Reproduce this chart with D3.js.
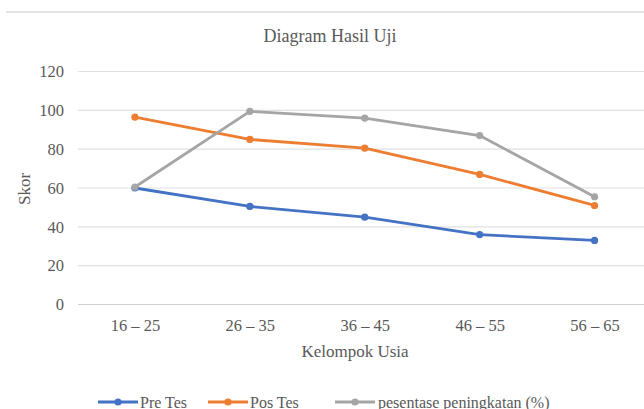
<!DOCTYPE html>
<html>
<head>
<meta charset="utf-8">
<script src="https://cdn.jsdelivr.net/npm/d3@7/dist/d3.min.js"></script>
<style>
  html, body { margin: 0; padding: 0; background: #fff; }
  svg { display: block; }
</style>
</head>
<body>
<svg id="chart" width="644" height="409"></svg>
<script>
// Age groups and test scores
const categories = ["16 – 25", "26 – 35", "36 – 45", "46 – 55", "56 – 65"];
const preTes = [60, 50.5, 45, 36, 33];
const posTes = [96.5, 85, 80.5, 67, 51];
const persentase = [60.5, 99.5, 96, 87, 55.5];
const yTicks = [0, 20, 40, 60, 80, 100, 120];

const seriesNames = ["Pre Tes", "Pos Tes", "pesentase peningkatan (%)"];
const seriesColors = ["#4472C4", "#ED7D31", "#A5A5A5"];
const seriesValues = [preTes, posTes, persentase];

const serif = "'Liberation Serif'";
const textColor = "#595959";
const svg = d3.select("#chart");

function styleText(sel, size) {
  return sel.attr("font-family", null)
    .style("font-family", serif)
    .style("font-size", size + "px")
    .style("fill", textColor);
}

// frame line along the top of the chart area
svg.append("line")
  .attr("x1", 6).attr("x2", 644).attr("y1", 12).attr("y2", 12)
  .attr("stroke", "#d9d9d9").attr("stroke-width", 1.5);

const x = d3.scalePoint().domain(categories).range([77.5, 652]).padding(0.5);
const y = d3.scaleLinear().domain([0, 120]).range([304.5, 71.5]);

// horizontal gridlines
svg.append("g")
  .selectAll("line")
  .data(yTicks)
  .join("line")
  .attr("x1", 78).attr("x2", 644)
  .attr("y1", d => y(d)).attr("y2", d => y(d))
  .attr("stroke", d => d === 0 ? "#cfcfcf" : "#e0e0e0")
  .attr("stroke-width", 1.2);

// y axis labels
const yAxis = svg.append("g")
  .attr("transform", "translate(64,0)")
  .call(d3.axisLeft(y).tickValues(yTicks).tickSize(0).tickPadding(0))
  .attr("font-family", null).attr("font-size", null);
yAxis.select(".domain").remove();
styleText(yAxis.selectAll("text"), 16.5);

// x axis labels
const xAxis = svg.append("g")
  .attr("transform", "translate(0,331)")
  .call(d3.axisBottom(x).tickSize(0).tickPadding(0))
  .attr("font-family", null).attr("font-size", null);
xAxis.select(".domain").remove();
styleText(xAxis.selectAll("text"), 16.5).attr("dy", 0).attr("y", 0);

// titles
styleText(svg.append("text"), 18)
  .attr("x", 330).attr("y", 42)
  .attr("text-anchor", "middle")
  .text("Diagram Hasil Uji");

styleText(svg.append("text"), 17)
  .attr("x", 355).attr("y", 357)
  .attr("text-anchor", "middle")
  .text("Kelompok Usia");

styleText(svg.append("text"), 17)
  .attr("transform", "translate(30,189) rotate(-90)")
  .attr("text-anchor", "middle")
  .text("Skor");

// series lines and markers
const line = d3.line()
  .x((d, i) => x(categories[i]))
  .y(d => y(d));

seriesValues.forEach((vals, s) => {
  const g = svg.append("g");
  g.append("path")
    .datum(vals)
    .attr("d", line)
    .attr("fill", "none")
    .attr("stroke", seriesColors[s])
    .attr("stroke-width", 2.8)
    .attr("stroke-linejoin", "round");
  g.selectAll("circle")
    .data(vals)
    .join("circle")
    .attr("cx", (d, i) => x(categories[i]))
    .attr("cy", d => y(d))
    .attr("r", 3.6)
    .attr("fill", seriesColors[s]);
});

// legend
const legendItems = [
  { x1: 98, x2: 138, tx: 140 },
  { x1: 208, x2: 248, tx: 250 },
  { x1: 335, x2: 375, tx: 378 }
];
const legend = svg.append("g");
legendItems.forEach((it, s) => {
  const ly = 402;
  legend.append("line")
    .attr("x1", it.x1).attr("x2", it.x2).attr("y1", ly).attr("y2", ly)
    .attr("stroke", seriesColors[s]).attr("stroke-width", 2.8);
  legend.append("circle")
    .attr("cx", (it.x1 + it.x2) / 2).attr("cy", ly).attr("r", 3.6)
    .attr("fill", seriesColors[s]);
  styleText(legend.append("text"), 16)
    .attr("x", it.tx).attr("y", ly + 5.5)
    .text(seriesNames[s]);
});
</script>
</body>
</html>
